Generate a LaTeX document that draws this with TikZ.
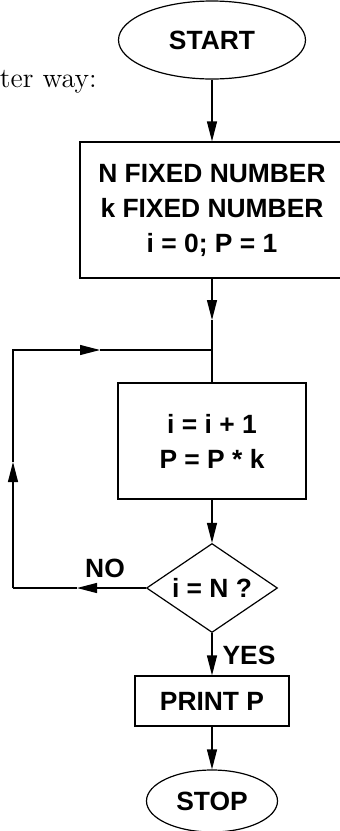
\documentclass[tikz,border=0pt]{standalone}
\usepackage{fontspec}
\newfontfamily\chartfont{Liberation Sans}
\usetikzlibrary{shapes.geometric,arrows.meta}

\begin{document}
\begin{tikzpicture}[x=0.5pt,y=-0.5pt,
        line width=0.6pt,
        >={Triangle[length=10pt,width=5pt]},
        every node/.style={font=\chartfont\bfseries\fontsize{13.2}{17.5}\selectfont},
        terminal/.style={draw,ellipse,inner sep=0pt},
        process/.style={draw,rectangle,align=center,inner sep=0pt},
        decision/.style={draw,diamond,shape aspect=1.47,inner sep=0pt}]
    \clip (0,0) rectangle (340,831);

    \node[font=\rmfamily\fontsize{14}{17}\selectfont,anchor=base east] (intro) at (104,87) {ster way:};

    \node[terminal,minimum width=93.5pt,minimum height=39pt] (start) at (212,40) {START};
    \node[process,minimum width=132pt,minimum height=68pt] (init) at (212,210) {N FIXED NUMBER\\k FIXED NUMBER\\i = 0; P = 1};
    \node[process,minimum width=94pt,minimum height=58pt] (body) at (212,441) {i = i + 1\\P = P * k};
    \node[decision,minimum width=65.5pt,minimum height=44.5pt] (test) at (212,588) {i = N ?};
    \node[process,minimum width=77pt,minimum height=25pt] (print) at (212,701) {PRINT P};
    \node[terminal,minimum width=65.5pt,minimum height=31pt] (stop) at (212,801) {STOP};

    \coordinate (tipA) at (212,320);
    \coordinate (join) at (212,350);
    \coordinate (noTip) at (77,588);
    \coordinate (cornerB) at (13,588);
    \coordinate (upTip) at (13,462);
    \coordinate (cornerT) at (13,350);
    \coordinate (backTip) at (100,350);

    \draw[->] (start) -- (init);
    \draw[->] (init) -- (tipA);
    \draw (tipA) -- (body);
    \draw[->] (body) -- (test);
    \draw[->] (test) -- (print);
    \draw[->] (print) -- (stop);

    % loop back when i < N
    \draw[->] (test) -- (noTip);
    \draw (noTip) -- (cornerB);
    \draw[->] (cornerB) -- (upTip);
    \draw[->] (upTip) -- (cornerT) -- (backTip);
    \draw (backTip) -- (join);

    \node (no) at (105,568) {NO};
    \node (yes) at (249,655) {YES};
\end{tikzpicture}
\end{document}
